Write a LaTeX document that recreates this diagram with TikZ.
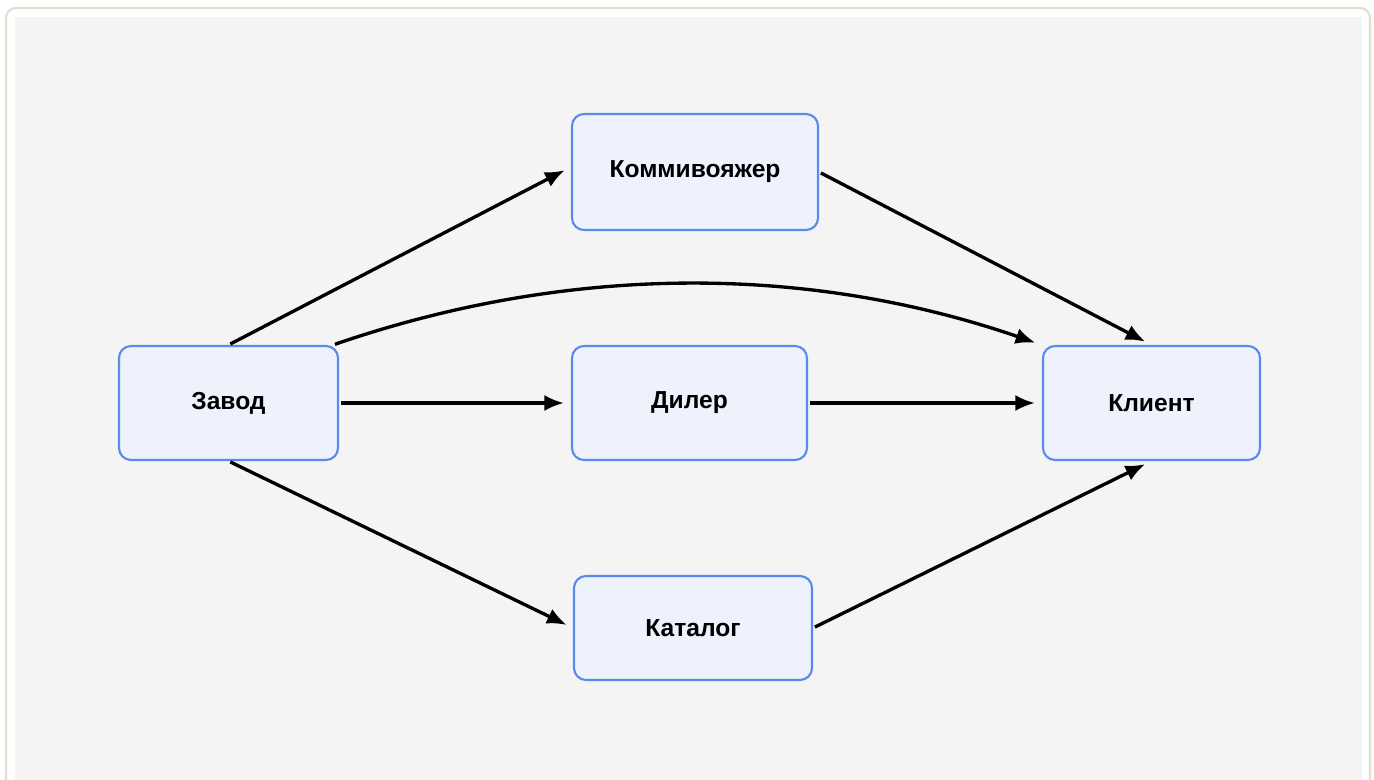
\documentclass[tikz,border=0pt]{standalone}
\usepackage{fontspec}
\setmainfont{Liberation Sans}
\usepackage{tikz}
\usetikzlibrary{positioning,arrows.meta}
\definecolor{boxfill}{HTML}{EEF2FC}
\definecolor{boxline}{HTML}{5A8BEA}
\definecolor{backgray}{HTML}{F4F4F4}
\definecolor{frameline}{HTML}{E5DCCF}

\begin{document}
\begin{tikzpicture}[
	unit/.style={draw=boxline, fill=boxfill, line width=0.6pt, rounded corners=0.12cm,
		minimum height=1.14cm, font=\fontsize{7}{8}\selectfont\bfseries},
	flow/.style={line width=0.95pt, -{Latex[length=5.6pt,width=4.6pt]}, shorten >=0.07cm, shorten <=0.02cm}]
	\useasboundingbox (0,0) rectangle (13.74,-7.80);
	\fill[white] (0,0) rectangle (13.74,-7.80);
	\draw[frameline, line width=0.6pt, rounded corners=0.1cm] (0.06,-0.08) rectangle (13.70,-7.95);
	\fill[backgray] (0.15,-0.17) rectangle (13.62,-7.80);

	\node[unit, minimum width=2.19cm] (zavod) at (2.285,-4.03) {Завод};
	\node[unit, minimum width=2.46cm, minimum height=1.16cm] (kommi) at (6.95,-1.72) {Коммивояжер};
	\node[unit, minimum width=2.35cm] (diler) at (6.895,-4.03) {Дилер};
	\node[unit, minimum width=2.38cm, minimum height=1.04cm] (katalog) at (6.93,-6.28) {Каталог};
	\node[unit, minimum width=2.17cm] (klient) at (11.515,-4.03) {Клиент};

	\draw[flow] (zavod.north) -- ([yshift=0.05cm]kommi.west);
	\draw[flow] ([xshift=-0.06cm]zavod.north east) to[out=19,in=161,looseness=0.9] (klient.north west);
	\draw[flow] (zavod.east) -- (diler.west);
	\draw[flow] (diler.east) -- (klient.west);
	\draw[flow] (zavod.south) -- (katalog.west);
	\draw[flow] (kommi.east) -- (klient.north);
	\draw[flow] (katalog.east) -- (klient.south);

\end{tikzpicture}
\end{document}
